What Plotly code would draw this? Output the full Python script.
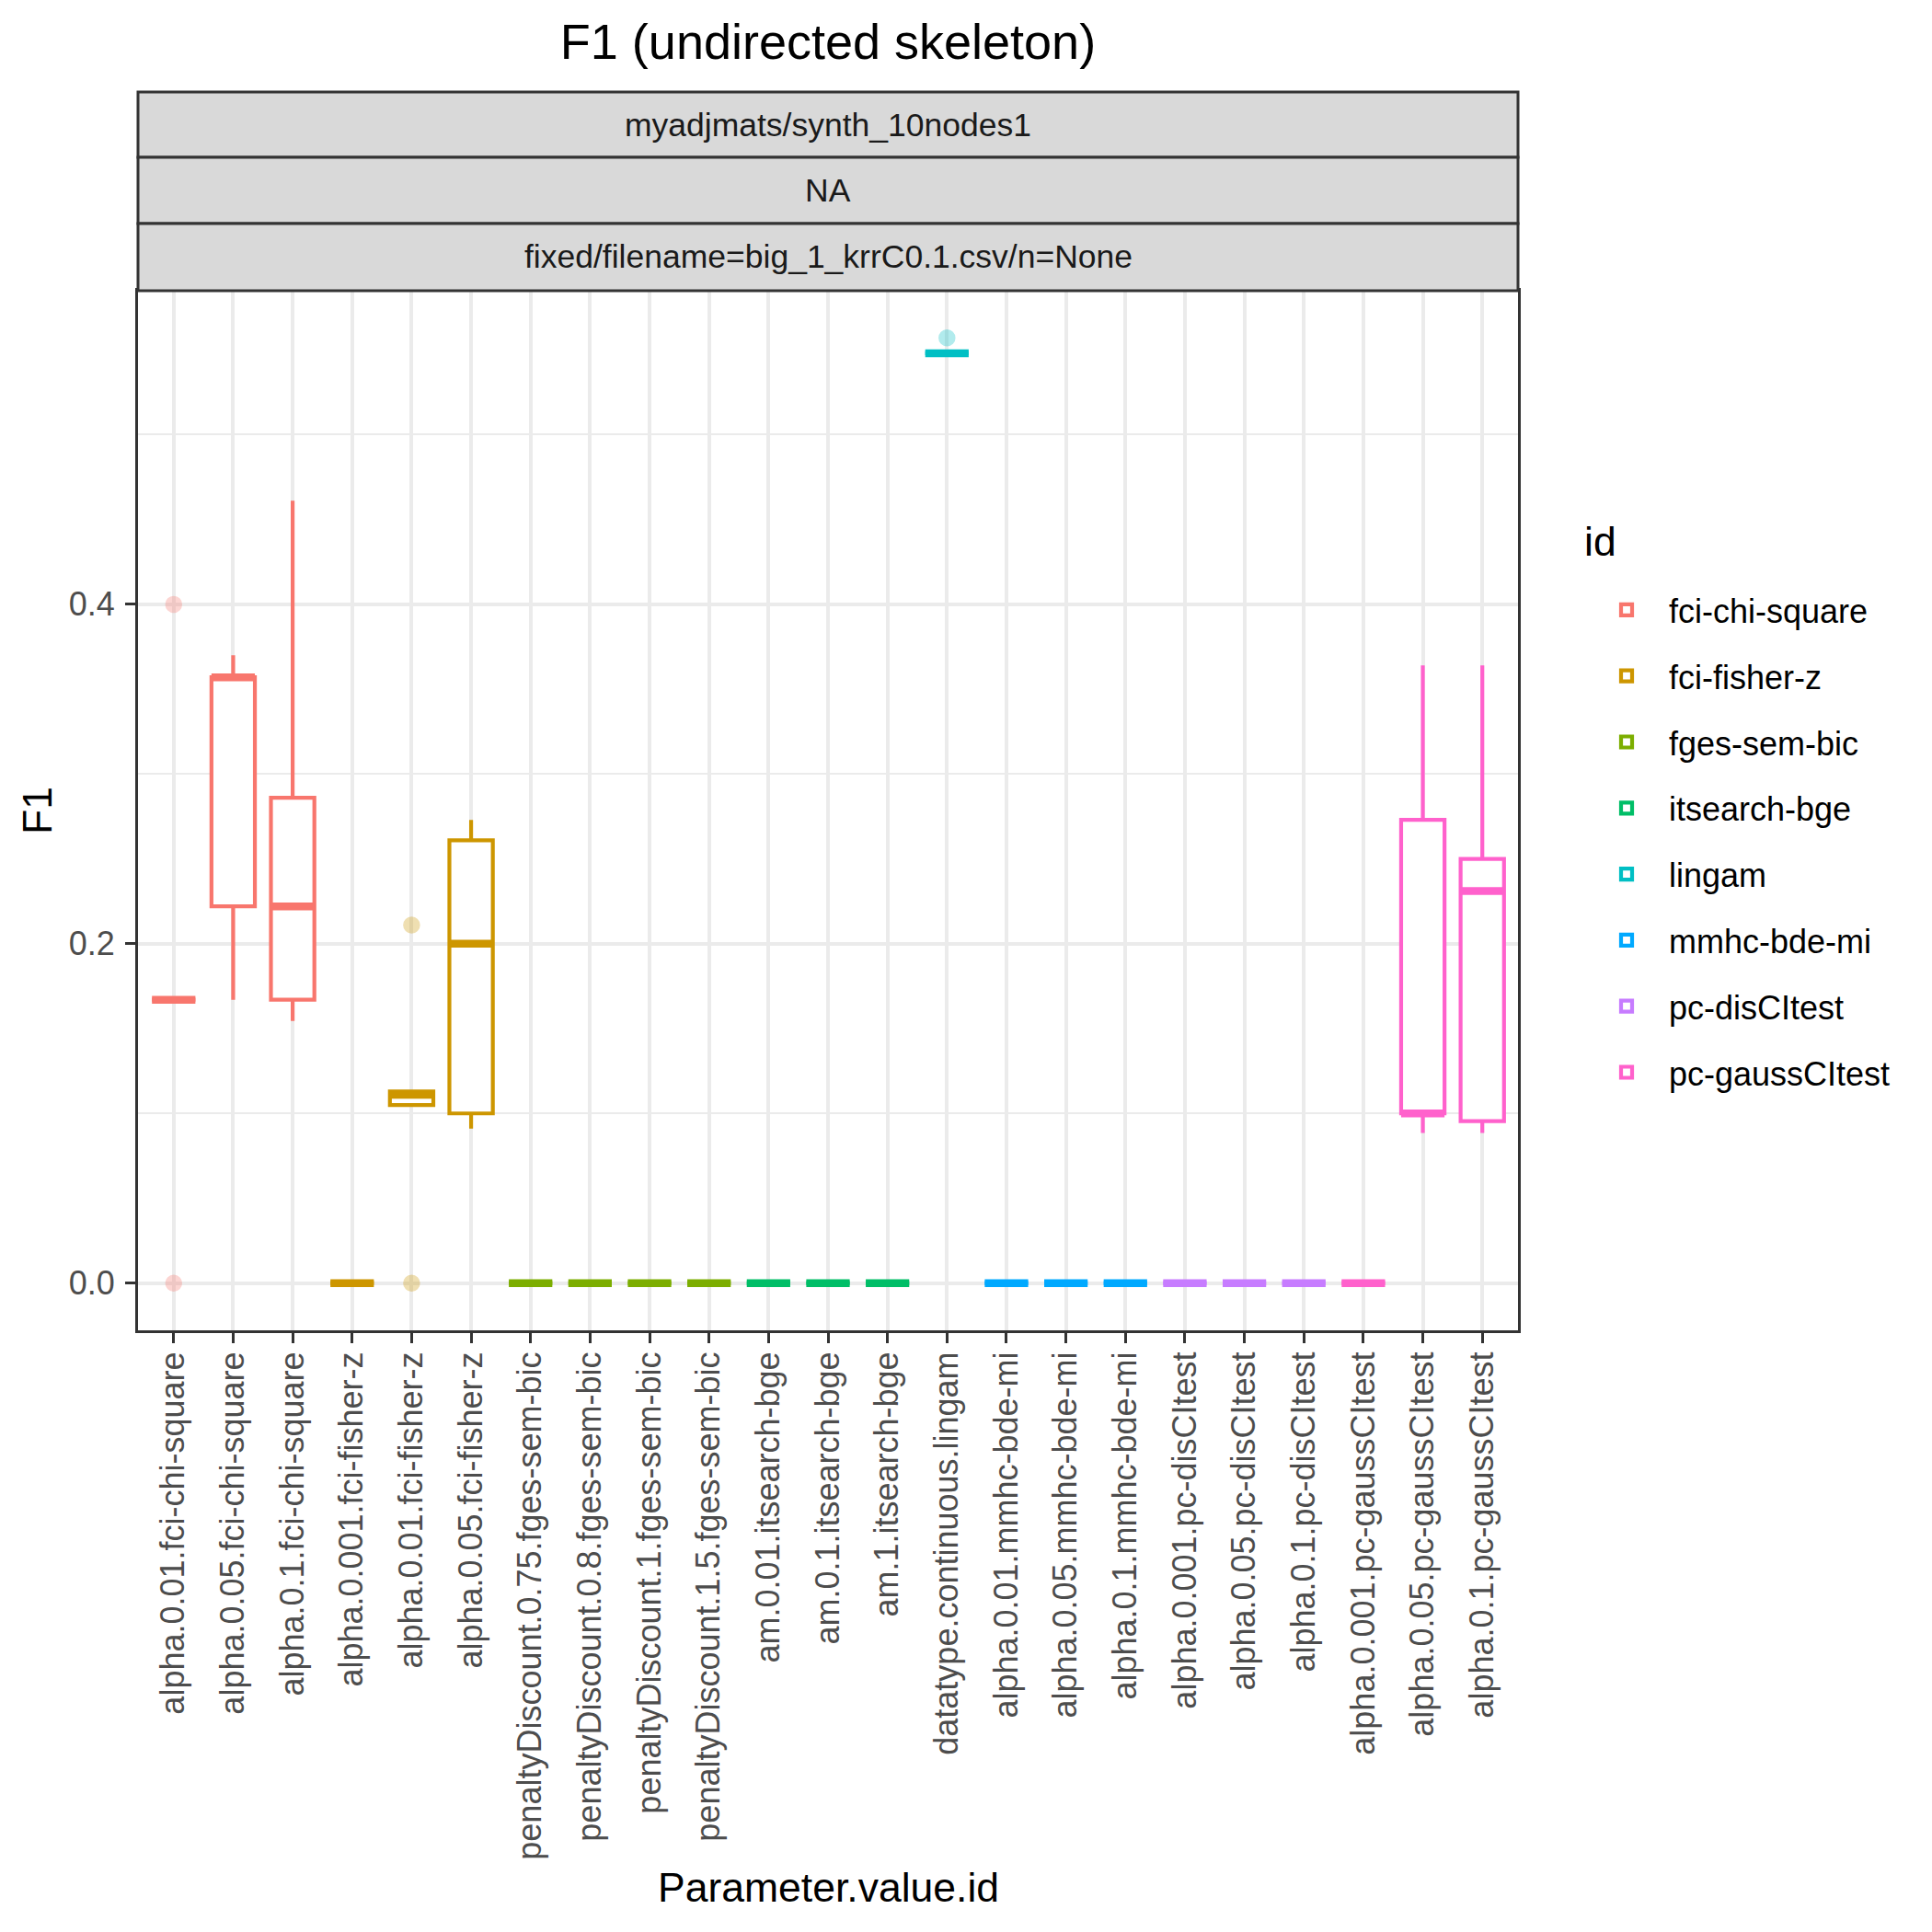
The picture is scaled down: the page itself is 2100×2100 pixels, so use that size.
import plotly.graph_objects as go

# ---------------- data ----------------
categories = [
    "alpha.0.01.fci-chi-square", "alpha.0.05.fci-chi-square", "alpha.0.1.fci-chi-square",
    "alpha.0.001.fci-fisher-z", "alpha.0.01.fci-fisher-z", "alpha.0.05.fci-fisher-z",
    "penaltyDiscount.0.75.fges-sem-bic", "penaltyDiscount.0.8.fges-sem-bic",
    "penaltyDiscount.1.fges-sem-bic", "penaltyDiscount.1.5.fges-sem-bic",
    "am.0.01.itsearch-bge", "am.0.1.itsearch-bge", "am.1.itsearch-bge",
    "datatype.continuous.lingam",
    "alpha.0.01.mmhc-bde-mi", "alpha.0.05.mmhc-bde-mi", "alpha.0.1.mmhc-bde-mi",
    "alpha.0.001.pc-disCItest", "alpha.0.05.pc-disCItest", "alpha.0.1.pc-disCItest",
    "alpha.0.001.pc-gaussCItest", "alpha.0.05.pc-gaussCItest", "alpha.0.1.pc-gaussCItest",
]
category_id = [
    "fci-chi-square", "fci-chi-square", "fci-chi-square",
    "fci-fisher-z", "fci-fisher-z", "fci-fisher-z",
    "fges-sem-bic", "fges-sem-bic", "fges-sem-bic", "fges-sem-bic",
    "itsearch-bge", "itsearch-bge", "itsearch-bge",
    "lingam",
    "mmhc-bde-mi", "mmhc-bde-mi", "mmhc-bde-mi",
    "pc-disCItest", "pc-disCItest", "pc-disCItest",
    "pc-gaussCItest", "pc-gaussCItest", "pc-gaussCItest",
]
lower_whisker = [0.167, 0.167, 0.1545, 0.0, 0.105, 0.091, 0, 0, 0, 0, 0, 0, 0, 0.548,
                 0, 0, 0, 0, 0, 0, 0, 0.0885, 0.0885]
q1 = [0.167, 0.222, 0.167, 0.0, 0.105, 0.100, 0, 0, 0, 0, 0, 0, 0, 0.548,
      0, 0, 0, 0, 0, 0, 0, 0.100, 0.0955]
median = [0.167, 0.357, 0.222, 0.0, 0.111, 0.200, 0, 0, 0, 0, 0, 0, 0, 0.548,
          0, 0, 0, 0, 0, 0, 0, 0.100, 0.231]
q3 = [0.167, 0.357, 0.286, 0.0, 0.113, 0.261, 0, 0, 0, 0, 0, 0, 0, 0.548,
      0, 0, 0, 0, 0, 0, 0, 0.273, 0.250]
upper_whisker = [0.167, 0.370, 0.461, 0.0, 0.113, 0.273, 0, 0, 0, 0, 0, 0, 0, 0.548,
                 0, 0, 0, 0, 0, 0, 0, 0.364, 0.364]

outlier_category = ["alpha.0.01.fci-chi-square", "alpha.0.01.fci-chi-square",
                    "alpha.0.01.fci-fisher-z", "alpha.0.01.fci-fisher-z",
                    "datatype.continuous.lingam"]
outlier_value = [0.400, 0.0, 0.211, 0.0, 0.557]

ids = ["fci-chi-square", "fci-fisher-z", "fges-sem-bic", "itsearch-bge",
       "lingam", "mmhc-bde-mi", "pc-disCItest", "pc-gaussCItest"]
colors = ["#F8766D", "#CD9600", "#7CAE00", "#00BE67",
          "#00BFC4", "#00A9FF", "#C77CFF", "#FF61CC"]

y_tickvals = [0.0, 0.2, 0.4]
y_ticktext = ["0.0", "0.2", "0.4"]
y_minor = [0.1, 0.3, 0.5]

strip_labels = ["myadjmats/synth_10nodes1", "NA", "fixed/filename=big_1_krrC0.1.csv/n=None"]
title_text = "F1 (undirected skeleton)"
x_title = "Parameter.value.id"
y_title = "F1"
legend_title = "id"

# ---------------- figure ----------------
W = H = 2100
FONT = "Liberation Sans, Arial, Helvetica, sans-serif"
BOXW = 0.73
color_of = dict(zip(ids, colors))
pos = {c: i for i, c in enumerate(categories)}

OFF = 8  # page body margin
PX0, PX1 = 150, 1650
PY0, PY1 = 316, 1446  # top, bottom
def px(x): return (x - OFF) / W
def py(y): return 1 - (y - OFF) / H

fig = go.Figure()

for gid in ids:
    idx = [i for i, g in enumerate(category_id) if g == gid]
    c = color_of[gid]
    fig.add_trace(go.Box(
        x=idx,
        q1=[q1[i] for i in idx], median=[median[i] for i in idx], q3=[q3[i] for i in idx],
        lowerfence=[lower_whisker[i] for i in idx], upperfence=[upper_whisker[i] for i in idx],
        width=BOXW, whiskerwidth=0, boxpoints=False,
        line=dict(color=c, width=4.2), fillcolor="white",
        name=gid, legendgroup=gid, showlegend=True, hoverinfo="skip",
    ))

for gid in ids:
    idx = [i for i, g in enumerate(category_id) if g == gid]
    xs, ys = [], []
    for i in idx:
        xs += [i - BOXW / 2, i + BOXW / 2, None]
        ys += [median[i], median[i], None]
    fig.add_trace(go.Scatter(
        x=xs, y=ys, mode="lines", line=dict(color=color_of[gid], width=8.5),
        legendgroup=gid, showlegend=False, hoverinfo="skip",
    ))

out_colors = [color_of[category_id[pos[c]]] for c in outlier_category]
fig.add_trace(go.Scatter(
    x=[pos[c] for c in outlier_category], y=outlier_value, mode="markers",
    marker=dict(size=17, color=out_colors, opacity=0.3,
                line=dict(width=1.5, color=out_colors)),
    showlegend=False, hoverinfo="skip",
))

# strips
strip_edges = [100, 171, 243, 316]
for j, lab in enumerate(strip_labels):
    fig.add_shape(type="rect", xref="paper", yref="paper",
                  x0=px(PX0), x1=px(PX1), y0=py(strip_edges[j + 1]), y1=py(strip_edges[j]),
                  fillcolor="#D9D9D9", line=dict(color="#333333", width=3), layer="above")
    fig.add_annotation(xref="paper", yref="paper", x=px((PX0 + PX1) / 2),
                       y=py((strip_edges[j] + strip_edges[j + 1]) / 2),
                       text=lab, showarrow=False, xanchor="center", yanchor="middle",
                       font=dict(family=FONT, size=35.5, color="#1A1A1A"))

# axis titles
fig.add_annotation(xref="paper", yref="paper", x=px((PX0 + PX1) / 2), y=py(2051),
                   text=x_title, showarrow=False, xanchor="center", yanchor="middle",
                   font=dict(family=FONT, size=44.5, color="black"))
fig.add_annotation(xref="paper", yref="paper", x=px(40), y=py((PY0 + PY1) / 2),
                   text=y_title, showarrow=False, xanchor="center", yanchor="middle",
                   textangle=-90, font=dict(family=FONT, size=44.5, color="black"))
# legend title
fig.add_annotation(xref="paper", yref="paper", x=px(1720), y=py(588),
                   text=legend_title, showarrow=False, xanchor="left", yanchor="middle",
                   font=dict(family=FONT, size=44.5, color="black"))

fig.update_layout(
    width=W, height=H,
    margin=dict(l=0, r=0, t=0, b=0, pad=0),
    paper_bgcolor="white", plot_bgcolor="white",
    font=dict(family=FONT, color="black"),
    title=dict(text=title_text, x=px(900), y=py(45), xanchor="center", yanchor="middle",
               xref="paper", yref="paper", font=dict(family=FONT, size=54, color="black")),
    boxmode="overlay",
    xaxis=dict(domain=[px(PX0), px(PX1)], range=[-0.6, len(categories) - 0.4],
               tickmode="array", tickvals=list(range(len(categories))), ticktext=categories,
               tickangle=-90, tickfont=dict(family=FONT, size=36, color="#4D4D4D"),
               ticks="outside", ticklen=11, tickwidth=3, tickcolor="#333333",
               showgrid=True, gridcolor="#EBEBEB", gridwidth=3.5, zeroline=False,
               showline=True, mirror=True, linecolor="#333333", linewidth=3,
               ticklabelstandoff=-5),
    yaxis=dict(domain=[py(PY1), py(PY0)], range=[-0.0278, 0.5848],
               tickmode="array", tickvals=y_tickvals, ticktext=y_ticktext,
               tickfont=dict(family=FONT, size=36, color="#4D4D4D"),
               ticks="outside", ticklen=11, tickwidth=3, tickcolor="#333333",
               showgrid=True, gridcolor="#EBEBEB", gridwidth=3.5, zeroline=False,
               showline=True, mirror=True, linecolor="#333333", linewidth=3,
               minor=dict(tickmode="array", tickvals=y_minor, showgrid=True,
                          gridcolor="#EBEBEB", gridwidth=2, ticks=""),
               ticklabelstandoff=4),
    legend=dict(x=px(1722), y=py(633), xanchor="left", yanchor="top",
                font=dict(family=FONT, size=36, color="black"),
                tracegroupgap=22, itemwidth=82, bgcolor="rgba(0,0,0,0)"),
)

fig.write_html("out.html")
